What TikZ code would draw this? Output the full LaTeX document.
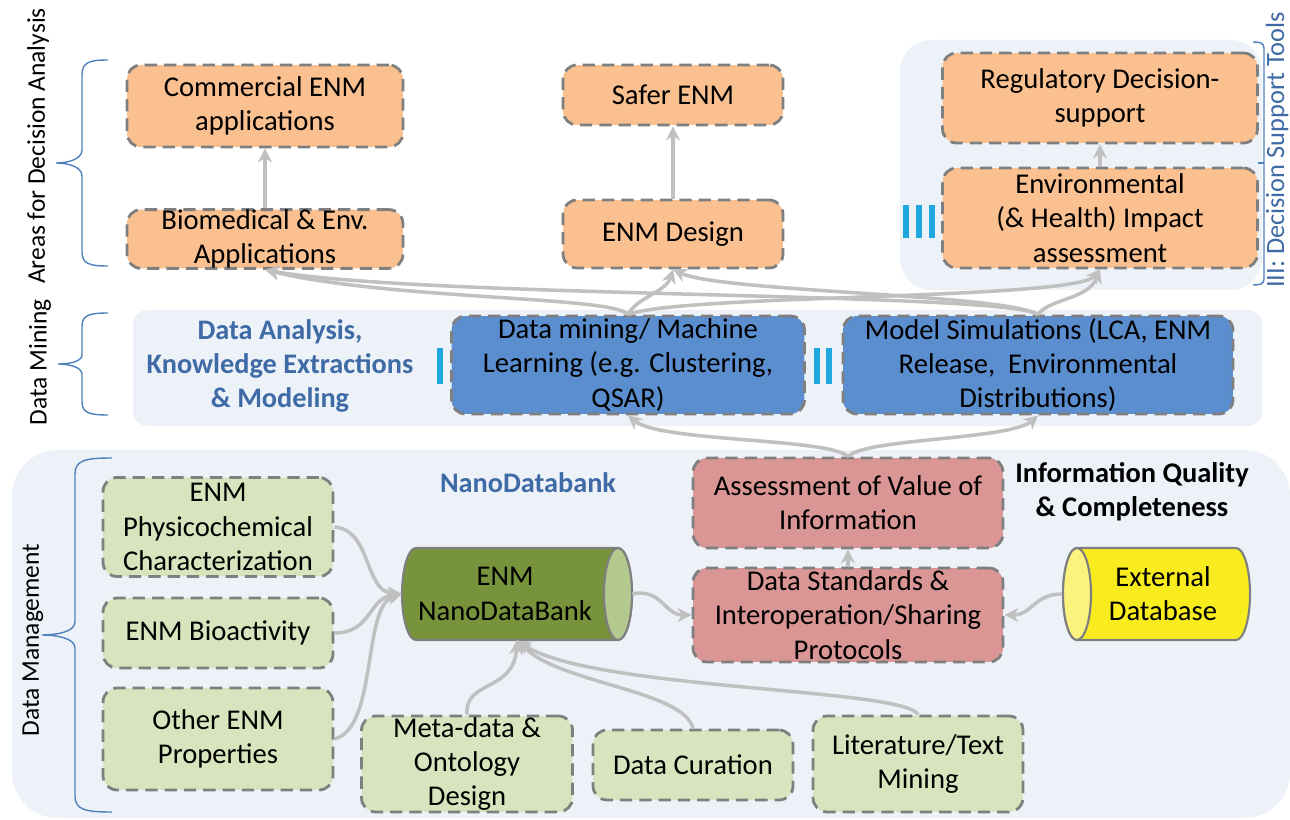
\documentclass[tikz,border=0pt]{standalone}
\usepackage{fontspec}
\setmainfont{Carlito}
\usetikzlibrary{arrows.meta}
\definecolor{orangebox}{HTML}{FAC08F}
\definecolor{bluebox}{HTML}{5A8ECF}
\definecolor{greenbox}{HTML}{D7E4BD}
\definecolor{pinkbox}{HTML}{DA9694}
\definecolor{cylgreen}{HTML}{77933C}
\definecolor{cylgreenend}{HTML}{B3C98E}
\definecolor{cylyellow}{HTML}{F8EC1E}
\definecolor{cylyellowend}{HTML}{FBF37E}
\definecolor{panel}{HTML}{EDF1F8}
\definecolor{arrowgray}{HTML}{C0C0C0}
\definecolor{bordergray}{HTML}{7F7F7F}
\definecolor{steel}{HTML}{3E6AA5}
\definecolor{bracecol}{HTML}{4F81BD}
\definecolor{barcyan}{HTML}{1FA8E0}
\begin{document}
\begin{tikzpicture}[x=0.02cm,y=-0.02cm,
  box/.style={draw=bordergray, dash pattern=on 7pt off 4pt, line width=1.6pt,
    rounded corners=8pt, align=center, inner sep=0pt,
    font=\fontsize{16.3}{19.5}\selectfont},
  obox/.style={box, fill=orangebox},
  bbox/.style={box, fill=bluebox},
  gbox/.style={box, fill=greenbox},
  pbox/.style={box, fill=pinkbox},
  arr/.style={draw=arrowgray, line width=2pt, -{Stealth[length=8pt,width=8pt]}},
  brace/.style={draw=bracecol, line width=0.8pt},
  sidelabel/.style={rotate=90, font=\fontsize{14.5}{17}\selectfont},
  bluelabel/.style={text=steel, font=\bfseries\fontsize{16.1}{19.5}\selectfont, align=center},
  blacklabel/.style={font=\bfseries\fontsize{16.2}{19.5}\selectfont, align=center},
  bar/.style={draw=barcyan, line width=3.4pt},
  cylline/.style={draw=bordergray, line width=1.2pt},
  cyltxt/.style={font=\fontsize{16.3}{19.5}\selectfont, align=center}
]
\useasboundingbox (0,0) rectangle (1290,820);
\fill[white] (0,0) rectangle (1290,820);

% background panels
\fill[panel, rounded corners=18pt] (900,40) rectangle (1262,290);
\fill[panel, rounded corners=8pt] (133,310) rectangle (1262,426);
\fill[panel, rounded corners=26pt] (12,450) rectangle (1290,818);

% top row
\node[obox, minimum width=5.52cm, minimum height=1.64cm] (com) at (265,106) {Commercial ENM\\applications};
\node[obox, minimum width=5.52cm, minimum height=1.16cm] (bio) at (265,239) {Biomedical \& Env.\\Applications};
\node[obox, minimum width=4.4cm, minimum height=1.2cm] (saf) at (673,95) {Safer ENM};
\node[obox, minimum width=4.4cm, minimum height=1.36cm] (des) at (673,234) {ENM Design};
\node[obox, minimum width=6.3cm, minimum height=1.8cm] (reg) at (1100,98) {Regulatory Decision-\\support};
\node[obox, minimum width=6.3cm, minimum height=2.0cm] (env) at (1100,218) {Environmental\\(\& Health) Impact\\assessment};

% middle band
\node[bluelabel] (dak) at (280,366) {Data Analysis,\\Knowledge Extractions\\\& Modeling};
\node[bbox, minimum width=7.06cm, minimum height=1.96cm] (dm) at (628,365) {Data mining/ Machine\\Learning (e.g. Clustering,\\QSAR)};
\node[bbox, minimum width=7.8cm, minimum height=1.96cm] (ms) at (1038,365) {Model Simulations (LCA, ENM\\Release,\ \ Environmental\\Distributions)};

% bottom panel
\node[bluelabel] (ndb) at (528,483) {NanoDatabank};
\node[blacklabel] (iqc) at (1132,492) {Information Quality\\\& Completeness};
\node[gbox, minimum width=4.6cm, minimum height=1.98cm] (phys) at (218,527) {ENM\\Physicochemical\\Characterization};
\node[gbox, minimum width=4.6cm, minimum height=1.4cm] (bioa) at (218,633) {ENM Bioactivity};
\node[gbox, minimum width=4.6cm, minimum height=2.04cm] (oth) at (218,739) {Other ENM\\Properties};
\node[gbox, minimum width=4.22cm, minimum height=1.92cm] (meta) at (467,764) {Meta-data \&\\Ontology\\Design};
\node[gbox, minimum width=4.0cm, minimum height=1.4cm] (cur) at (693,765) {Data Curation};
\node[gbox, minimum width=4.2cm, minimum height=1.92cm] (lit) at (918,764) {Literature/Text\\Mining};
\node[pbox, minimum width=6.2cm, minimum height=1.8cm] (avi) at (848,503) {Assessment of Value of\\Information};
\node[pbox, minimum width=6.2cm, minimum height=1.88cm] (dsp) at (848,615) {Data Standards \&\\Interoperation/Sharing\\Protocols};

% ENM NanoDataBank cylinder
\path[cylline, fill=cylgreen] (618,548) -- (416,548)
  arc[start angle=270, end angle=90, x radius=14, y radius=46]
  -- (618,640) arc[start angle=90, end angle=-90, x radius=14, y radius=46] -- cycle;
\path[cylline, fill=cylgreenend] (618,594) ellipse[x radius=14, y radius=46];
\node[minimum width=4.6cm, minimum height=1.84cm, inner sep=0pt] (cyl) at (517,594) {};
\node[cyltxt] (cyltext) at (505,594) {ENM\\NanoDataBank};

% External Database cylinder
\path[cylline, fill=cylyellow] (1077,548) -- (1236,548)
  arc[start angle=270, end angle=450, x radius=14, y radius=46]
  -- (1077,640) arc[start angle=90, end angle=270, x radius=14, y radius=46] -- cycle;
\path[cylline, fill=cylyellowend] (1077,594) ellipse[x radius=14, y radius=46];
\node[minimum width=3.74cm, minimum height=1.84cm, inner sep=0pt] (ext) at (1156,594) {};
\node[cyltxt] (exttext) at (1163,594) {External\\Database};

% cyan bars
\draw[bar] (440,348) -- (440,384);
\draw[bar] (817,348) -- (817,384);
\draw[bar] (829,348) -- (829,384);
\draw[bar] (906,205) -- (906,238);
\draw[bar] (919,205) -- (919,238);
\draw[bar] (932,205) -- (932,238);

% arrows: top area
\draw[arr] (bio.north) -- (com.south);
\draw[arr] (des.north) -- (saf.south);
\draw[arr] (env.north) -- (reg.south);
\draw[arr] (dm.north) .. controls (615,296) and (390,300) .. (bio.south);
\draw[arr] (ms.north) .. controls (1010,292) and (420,298) .. (bio.south);
\draw[arr] (dm.north) .. controls (636,298) and (666,292) .. (des.south);
\draw[arr] (ms.north) .. controls (1005,294) and (720,292) .. (des.south);
\draw[arr] (dm.north) .. controls (680,294) and (1075,300) .. (env.south);
\draw[arr] (ms.north) .. controls (1050,298) and (1088,300) .. (env.south);

% arrows: to middle band
\draw[arr] (avi.north) .. controls (830,438) and (660,442) .. (dm.south);
\draw[arr] (avi.north) .. controls (866,438) and (1010,440) .. (ms.south);

% arrows: bottom
\draw[arr] (dsp.north) -- (avi.south);
\draw[arr] (cyl.east) .. controls (662,588) and (664,615) .. (dsp.west);
\draw[arr] (ext.west) .. controls (1034,594) and (1032,615) .. (dsp.east);
\draw[arr] (phys.east) .. controls (372,530) and (364,592) .. (cyl.west);
\draw[arr] (bioa.east) .. controls (372,633) and (368,598) .. (cyl.west);
\draw[arr] (oth.east) .. controls (378,728) and (362,606) .. (cyl.west);
\draw[arr] (meta.north) .. controls (464,680) and (514,692) .. (cyl.south);
\draw[arr] (cur.north) .. controls (684,690) and (560,684) .. (cyl.south);
\draw[arr] (lit.north) .. controls (905,688) and (590,690) .. (cyl.south);

% braces and side labels
\draw[brace] (108,60) .. controls (90,60) and (82,62) .. (82,75) -- (82,150)
  .. controls (82,160) and (66,163) .. (56,163) .. controls (66,163) and (82,166) .. (82,176)
  -- (82,252) .. controls (82,264) and (90,266) .. (108,266);
\node[sidelabel] (lab1) at (38,146) {Areas for Decision Analysis};
\draw[brace] (108,313) .. controls (90,313) and (82,315) .. (82,326) -- (82,355)
  .. controls (82,362) and (68,364) .. (58,364) .. controls (68,364) and (82,367) .. (82,374)
  -- (82,402) .. controls (82,413) and (90,415) .. (108,415);
\node[sidelabel] (lab2) at (40,362) {Data Mining};
\draw[brace] (112,458) .. controls (86,458) and (75,460) .. (75,474) -- (75,622)
  .. controls (75,632) and (56,635) .. (42,635) .. controls (56,635) and (75,638) .. (75,648)
  -- (75,796) .. controls (75,810) and (86,812) .. (112,812);
\node[sidelabel] (lab3) at (33,640) {Data Management};
\draw[brace] (1253,42) .. controls (1260,42) and (1264,43) .. (1264,48) -- (1264,279)
  .. controls (1264,284) and (1260,285) .. (1253,285);
\draw[brace] (1264,163) -- (1258,163);
\node[sidelabel, text=steel, font=\fontsize{15}{17}\selectfont] (lab4) at (1277,150) {III: Decision Support Tools};
\end{tikzpicture}
\end{document}
